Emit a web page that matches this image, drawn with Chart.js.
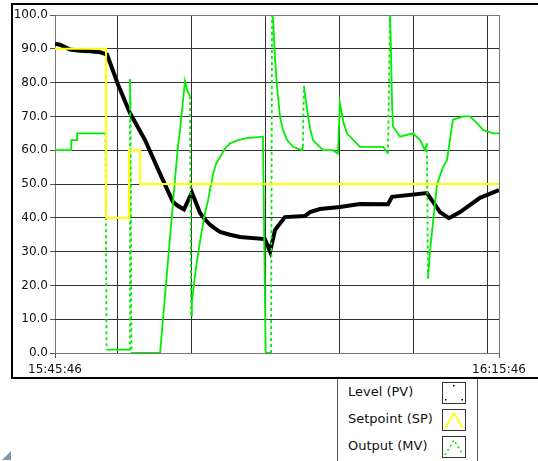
<!DOCTYPE html>
<html>
<head>
<meta charset="utf-8">
<script src="https://cdn.jsdelivr.net/npm/chart.js@4.4.1/dist/chart.umd.min.js"></script>
<style>
    body { margin:0; width:538px; height:461px; overflow:hidden; background:#fff; position:relative; font-family:"DejaVu Sans", sans-serif; }
    .frame { position:absolute; left:11px; top:3px; width:540px; height:372px; border-top:2px solid #000; border-left:2px solid #000; border-bottom:2px solid #000; }
    #trendChart { position:absolute; left:0; top:0; }
    .legend { position:absolute; left:337px; top:379px; width:139px; height:90px; border-left:1px solid #555; border-right:1px solid #555; background:#fff; }
    .legend .row { position:relative; height:27px; }
    .legend .row span { position:absolute; left:10px; top:5px; font-size:13px; color:#111; white-space:nowrap; }
    .legend .row svg { position:absolute; left:104px; top:3px; }
    .corner { position:absolute; left:2px; top:451px; width:0; height:0; border-left:9px solid transparent; border-bottom:9px solid #8494ad; }
</style>
</head>
<body>
<div class="frame"></div>
<canvas id="trendChart" width="538" height="461"></canvas>
<div class="legend">
    <div class="row"><span>Level (PV)</span>
        <svg width="24" height="22"><rect x="0.5" y="0.5" width="23" height="21" fill="#fff" stroke="#333"/><rect x="11" y="3" width="1.5" height="1.5" fill="#000"/><rect x="3" y="17" width="1.5" height="1.5" fill="#000"/><rect x="19.5" y="17" width="1.5" height="1.5" fill="#000"/></svg></div>
    <div class="row"><span>Setpoint (SP)</span>
        <svg width="24" height="22"><rect x="0.5" y="0.5" width="23" height="21" fill="#fff" stroke="#333"/><polyline points="3,19 12,4 21,19" fill="none" stroke="#ffff00" stroke-width="1.6"/></svg></div>
    <div class="row"><span>Output (MV)</span>
        <svg width="24" height="22"><rect x="0.5" y="0.5" width="23" height="21" fill="#fff" stroke="#333"/><polyline points="3,19 12,4 21,19" fill="none" stroke="#00e000" stroke-width="1.5" stroke-dasharray="2,3"/></svg></div>
</div>
<div class="corner"></div>
<script>
// ----------- Data (seconds after 15:45:46) ----------------- //

const levelTimes  = [0, 20, 41, 61, 101, 142, 182, 211, 255, 304, 365, 426, 478, 499, 523, 555, 588, 608, 628, 649, 669, 709, 750, 851, 872, 892, 932, 1013, 1034, 1074, 1155, 1236, 1350, 1366, 1508, 1561, 1597, 1642, 1723, 1800];
const levelValues = [91.5, 91.2, 90.5, 89.8, 89.4, 89.3, 89.0, 88.3, 79.5, 71, 63, 53, 44.7, 43.5, 42.5, 47.5, 41.4, 39.5, 38, 36.8, 35.8, 35, 34.3, 33.7, 30, 36.4, 40.2, 40.5, 41.7, 42.6, 43.2, 44.1, 44, 46.2, 47.3, 41.7, 39.9, 41.7, 45.9, 48.2];

const setpointTimes  = [0, 207, 300, 345, 1800];
const setpointValues = [90, 40, 60, 50, 50];

const outputTimes  = [0, 65, 66, 89, 90, 205, 209, 212, 300, 304, 306, 310, 316, 426, 486, 499, 507, 527, 535, 547, 552, 555, 571, 588, 604, 620, 641, 653, 669, 689, 709, 742, 778, 843, 854, 876, 880, 884, 892, 900, 912, 924, 941, 965, 1001, 1005, 1009, 1022, 1034, 1046, 1086, 1127, 1147, 1155, 1170, 1184, 1236, 1265, 1330, 1350, 1358, 1362, 1366, 1370, 1399, 1451, 1480, 1500, 1508, 1512, 1520, 1549, 1573, 1589, 1601, 1613, 1654, 1682, 1711, 1735, 1776, 1800];
const outputValues = [60, 60, 63, 63, 65, 65, 1, 1, 1, 81, 73, 0, 0, 0, 51, 61.5, 66, 80.5, 78, 76, 11, 15, 25, 33, 40, 45, 53, 56, 58, 60.5, 62, 63, 63.6, 64, 0, 0, 100, 99, 87, 79, 70, 66, 63, 61, 60, 61, 79, 72, 66.5, 63, 60, 60, 59, 74, 68, 65, 61, 61, 61, 59, 100, 90, 75, 67, 64, 65, 63, 60, 62, 22, 30, 50, 55, 57, 63, 69, 70, 70, 68, 66, 65, 65];

const xLabels = ["15:45:46", "16:15:46"];
const gridSeconds = [254, 554, 854, 1154, 1454, 1754];

const toPoints = (xs, ys) => xs.map((x, i) => ({x: x, y: ys[i]}));

// ----------- Chart ----------------- //

const isEdge = (v) => v === 0 || v === 1800;

new Chart(document.getElementById('trendChart'), {
    type: "line",
    data: {
        datasets: [{
            label: "Setpoint (SP)",
            data: toPoints(setpointTimes, setpointValues),
            borderColor: "#ffff00",
            borderWidth: 2,
            stepped: true,
            pointRadius: 0,
        }, {
            label: "Output (MV)",
            data: toPoints(outputTimes, outputValues),
            borderColor: "#00ee00",
            borderWidth: 1.8,
            pointRadius: 0,
            segment: {
                borderDash: ctx => (Math.abs(ctx.p1.parsed.y - ctx.p0.parsed.y) > 15 && (ctx.p1.parsed.x - ctx.p0.parsed.x) < 10) ? [3, 3] : undefined
            }
        }, {
            label: "Level (PV)",
            data: toPoints(levelTimes, levelValues),
            borderColor: "#000",
            borderWidth: 4,
            pointRadius: 0,
        }]
    },
    options: {
        responsive: false,
        animation: false,
        layout: { padding: { left: 0, top: 15, right: 39, bottom: 0 } },
        plugins: {
            legend: { display: false },
            tooltip: { enabled: false }
        },
        scales: {
            x: {
                type: "linear",
                min: 0,
                max: 1800,
                afterBuildTicks: (scale) => {
                    scale.ticks = [0, ...gridSeconds, 1800].map(v => ({value: v}));
                },
                afterFit: (scale) => { scale.height = 108; },
                ticks: {
                    autoSkip: false,
                    maxRotation: 0,
                    padding: 5,
                    color: "#111",
                    font: { family: "DejaVu Sans", size: 12 },
                    callback: (v) => v === 0 ? xLabels[0] : (v === 1800 ? xLabels[1] : "")
                },
                grid: {
                    color: ctx => (ctx.tick && isEdge(ctx.tick.value)) ? "#777" : "#333",
                    tickColor: ctx => (ctx.tick && isEdge(ctx.tick.value)) ? "#555" : "transparent",
                    tickLength: 5,
                },
                border: { display: false }
            },
            y: {
                min: 0,
                max: 100,
                afterFit: (scale) => { scale.width = 55; },
                ticks: {
                    stepSize: 10,
                    padding: 2,
                    color: "#111",
                    font: { family: "DejaVu Sans", size: 12 },
                    callback: (v) => v.toFixed(1)
                },
                grid: {
                    color: ctx => (ctx.tick && (ctx.tick.value === 0 || ctx.tick.value === 100)) ? "#777" : "#333",
                    tickColor: "#555",
                    tickLength: 5,
                },
                border: { display: false }
            }
        }
    }
});
</script>
</body>
</html>
